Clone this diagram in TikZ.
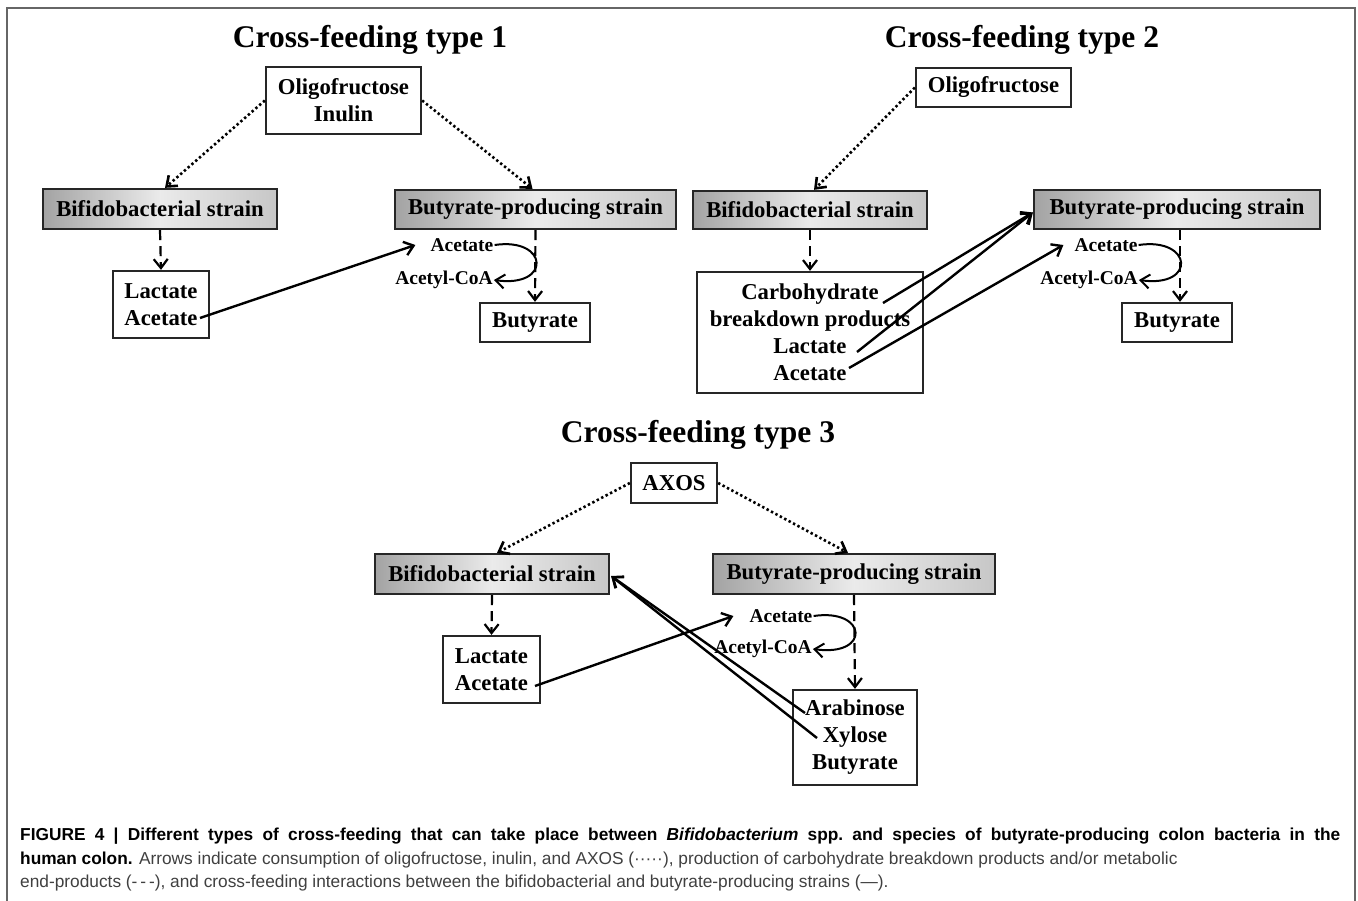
\documentclass[tikz,border=0pt]{standalone}
\usepackage{fontspec}
\setmainfont{Liberation Serif}
\newfontfamily\capfont{Liberation Sans}
\usetikzlibrary{arrows.meta}
\begin{document}
\begin{tikzpicture}[x=1pt,y=-1pt,
  box/.style={draw=black!85, line width=2.3pt, inner sep=0pt, align=center, font=\fontsize{22.7}{27}\selectfont\bfseries},
  strain/.style={box, left color=black!36, right color=black!22, middle color=black!8},
  lab/.style={inner sep=1pt, font=\fontsize{19.5}{21}\selectfont\bfseries},
  ttl/.style={font=\fontsize{31.5}{34}\selectfont\bfseries, anchor=base, inner sep=0pt},
  tip/.style={-{Straight Barb[length=9pt,width=14pt]}},
  dotarr/.style={tip, line width=2.6pt, dash pattern=on 2.4pt off 2.6pt},
  dasharr/.style={tip, line width=2.2pt, dash pattern=on 10pt off 6pt},
  solarr/.style={tip, line width=2.4pt},
  curarr/.style={tip, line width=2pt},
  captxt/.style={anchor=base west, inner sep=0pt, text=black!75, font=\capfont\fontsize{17.3}{18}\selectfont}
]
\useasboundingbox (0,0) rectangle (1358,901);
\fill[white] (0,0) rectangle (1358,901);
\draw[black!60, line width=1.6pt] (7,8) rectangle (1355,915);

% titles
\node[ttl] (t1) at (370,48) {Cross-feeding type 1};
\node[ttl] (t2) at (1022,48) {Cross-feeding type 2};
\node[ttl] (t3) at (698,442) {Cross-feeding type 3};

% ---- type 1
\node[box, minimum width=155pt, minimum height=67pt] (oi1) at (343.5,100.5) {Oligofructose\\Inulin};
\node[strain, minimum width=234pt, minimum height=40pt] (bif1) at (160,209) {Bifidobacterial strain};
\node[strain, minimum width=281pt, minimum height=39pt] (but1) at (535.5,209.5) {Butyrate-producing strain};
\node[box, minimum width=96pt, minimum height=67pt] (la1) at (161,304.5) {Lactate\\Acetate};
\node[box, minimum width=110pt, minimum height=39pt] (bu1) at (535,322.5) {Butyrate};
\node[lab] (ac1) at (462,245) {Acetate};
\node[lab] (acc1) at (444,280) {Acetyl-CoA};
\coordinate (la1a) at (200,318);

\draw[dotarr] (oi1.west) -- ([xshift=5pt]bif1.north);
\draw[dotarr] (oi1.east) -- ([xshift=-3pt]but1.north);
\draw[dasharr] (bif1.south) -- (la1.north);
\draw[dasharr] (but1.south) -- (bu1.north);
\draw[solarr] (la1a) -- ([xshift=-14pt]ac1.west);
\draw[curarr] (ac1.east) .. controls +(54,-8) and +(58,8) .. (acc1.east);

% ---- type 2
\node[box, minimum width=155pt, minimum height=39pt] (of2) at (993.5,87.5) {Oligofructose};
\node[strain, minimum width=234pt, minimum height=38pt] (bif2) at (810,210) {Bifidobacterial strain};
\node[strain, minimum width=286pt, minimum height=39pt] (but2) at (1177,209.5) {Butyrate-producing strain};
\node[box, minimum width=226pt, minimum height=121pt] (cb2) at (810,332.5) {Carbohydrate\\breakdown products\\Lactate\\Acetate};
\node[box, minimum width=110pt, minimum height=39pt] (bu2) at (1177,322.5) {Butyrate};
\node[lab] (ac2) at (1106,245) {Acetate};
\node[lab] (acc2) at (1089,280) {Acetyl-CoA};
\coordinate (cb2p) at (883,303);
\coordinate (cb2l) at (857,352);
\coordinate (cb2a) at (849,368);

\draw[dotarr] (of2.west) -- ([xshift=4pt]bif2.north);
\draw[dasharr] (bif2.south) -- (cb2.north);
\draw[dasharr] ([xshift=3pt]but2.south) -- ([xshift=3pt]bu2.north);
\draw[solarr] (cb2p) -- ([yshift=-3pt]but2.west);
\draw[solarr] (cb2l) -- ([yshift=-3pt]but2.west);
\draw[solarr] (cb2a) -- ([xshift=-10pt]ac2.west);
\draw[curarr] (ac2.east) .. controls +(54,-8) and +(58,8) .. (acc2.east);

% ---- type 3
\node[box, minimum width=86pt, minimum height=40pt] (ax3) at (674,483) {AXOS};
\node[strain, minimum width=234pt, minimum height=40pt] (bif3) at (492,574) {Bifidobacterial strain};
\node[strain, minimum width=282pt, minimum height=40pt] (but3) at (854,574) {Butyrate-producing strain};
\node[box, minimum width=97pt, minimum height=67pt] (la3) at (491.5,669.5) {Lactate\\Acetate};
\node[box, minimum width=124pt, minimum height=95pt] (ar3) at (855,737.5) {Arabinose\\Xylose\\Butyrate};
\node[lab] (ac3) at (781,616) {Acetate};
\node[lab] (acc3) at (763,649) {Acetyl-CoA};
\coordinate (la3a) at (535,686);
\coordinate (ar3a) at (805,713);
\coordinate (ar3x) at (817,738);

\draw[dotarr] (ax3.west) -- ([xshift=5pt]bif3.north);
\draw[dotarr] (ax3.east) -- ([xshift=-6pt]but3.north);
\draw[dasharr] (bif3.south) -- (la3.north);
\draw[dasharr] (but3.south) -- (ar3.north);
\draw[solarr] (la3a) -- ([xshift=-15pt]ac3.west);
\draw[solarr] (ar3a) -- ([xshift=1pt,yshift=-2pt]bif3.east);
\draw[solarr] (ar3x) -- ([xshift=1pt,yshift=-2pt]bif3.east);
\draw[curarr] (ac3.east) .. controls +(54,-8) and +(58,8) .. (acc3.east);

% ---- caption
\node[captxt] (c1) at (20,840) {\makebox[1320pt][s]{\bfseries\color{black}FIGURE 4 | Different types of cross-feeding that can take place between \textit{Bifidobacterium} spp.\ and species of butyrate-producing colon bacteria in the}};
\node[captxt] (c2) at (20,864) {\textbf{\color{black}human colon.} Arrows indicate consumption of oligofructose, inulin, and AXOS (·····), production of carbohydrate breakdown products and/or metabolic};
\node[captxt] (c3) at (20,887) {end-products (-\,-\,-), and cross-feeding interactions between the bifidobacterial and butyrate-producing strains (—).};
\end{tikzpicture}
\end{document}
